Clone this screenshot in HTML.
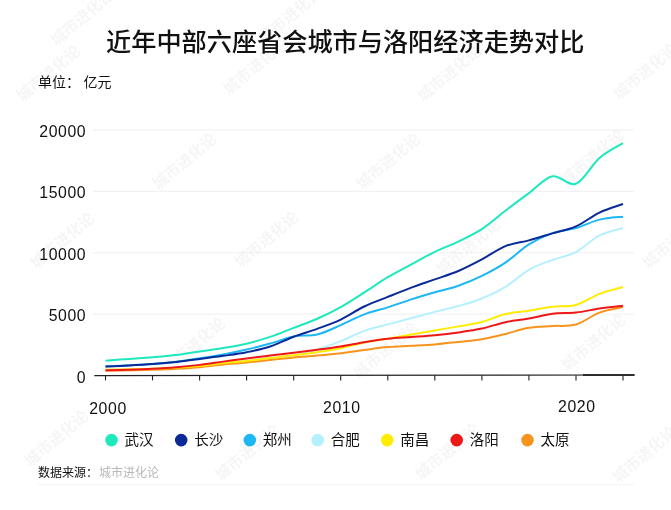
<!DOCTYPE html>
<html lang="zh-CN"><head><meta charset="utf-8"><title>近年中部六座省会城市与洛阳经济走势对比</title>
<style>html,body{margin:0;padding:0;background:#fff}svg{display:block}text{font-family:'Liberation Sans','Noto Sans CJK SC',sans-serif}.wm text{font-weight:700;font-size:15.5px;fill:#f6f6f6;text-anchor:middle}.num{font-size:15.8px;letter-spacing:.6px}</style></head><body>
<svg width="671" height="510" viewBox="0 0 671 510" fill="#111">
<rect width="671" height="510" fill="#fff"/>
<g class="wm">
<text transform="translate(82 17) rotate(-40)" y="6">城市进化论</text>
<text transform="translate(290 15) rotate(-40)" y="6">城市进化论</text>
<text transform="translate(48 73) rotate(-40)" y="6">城市进化论</text>
<text transform="translate(255 66) rotate(-40)" y="6">城市进化论</text>
<text transform="translate(449 73) rotate(-40)" y="6">城市进化论</text>
<text transform="translate(645 71) rotate(-40)" y="6">城市进化论</text>
<text transform="translate(184 161) rotate(-40)" y="6">城市进化论</text>
<text transform="translate(388 161) rotate(-40)" y="6">城市进化论</text>
<text transform="translate(592 157) rotate(-40)" y="6">城市进化论</text>
<text transform="translate(62 240) rotate(-40)" y="6">城市进化论</text>
<text transform="translate(266 239) rotate(-40)" y="6">城市进化论</text>
<text transform="translate(468 246) rotate(-40)" y="6">城市进化论</text>
<text transform="translate(674 240) rotate(-40)" y="6">城市进化论</text>
<text transform="translate(193 345) rotate(-40)" y="6">城市进化论</text>
<text transform="translate(385 350) rotate(-40)" y="6">城市进化论</text>
<text transform="translate(593 342) rotate(-40)" y="6">城市进化论</text>
<text transform="translate(56 438) rotate(-40)" y="6">城市进化论</text>
<text transform="translate(247 452) rotate(-40)" y="6">城市进化论</text>
<text transform="translate(447 451) rotate(-40)" y="6">城市进化论</text>
<text transform="translate(644 454) rotate(-40)" y="6">城市进化论</text>
</g>
<text x="345.2" y="51.1" text-anchor="middle" font-size="25.18" font-weight="500" fill="#111">近年中部六座省会城市与洛阳经济走势对比</text>
<text x="38" y="87" font-size="14">单位：</text><text x="83.5" y="87" font-size="14">亿元</text>
<line x1="93" x2="634" y1="314.1" y2="314.1" stroke="#efefef" stroke-width="1"/>
<line x1="93" x2="634" y1="252.7" y2="252.7" stroke="#efefef" stroke-width="1"/>
<line x1="93" x2="634" y1="191.3" y2="191.3" stroke="#efefef" stroke-width="1"/>
<line x1="93" x2="634" y1="129.9" y2="129.9" stroke="#efefef" stroke-width="1"/>
<text class="num" x="86.2" y="383.0" text-anchor="end">0</text>
<text class="num" x="86.2" y="320.9" text-anchor="end">5000</text>
<text class="num" x="86.2" y="259.5" text-anchor="end">10000</text>
<text class="num" x="86.2" y="198.1" text-anchor="end">15000</text>
<text class="num" x="86.2" y="136.7" text-anchor="end">20000</text>
<path d="M105.50 369.79 C109.42 369.72 121.18 369.54 129.02 369.36 C136.86 369.18 144.70 369.01 152.55 368.72 C160.39 368.43 168.23 368.07 176.07 367.63 C183.91 367.18 191.75 366.80 199.59 366.04 C207.43 365.29 215.27 363.97 223.11 363.12 C230.95 362.27 238.80 361.80 246.64 360.96 C254.48 360.12 262.32 359.00 270.16 358.06 C278.00 357.13 285.84 356.79 293.68 355.36 C301.52 353.93 309.36 351.84 317.20 349.47 C325.05 347.09 332.89 344.22 340.73 341.12 C348.57 338.01 356.41 333.63 364.25 330.84 C372.09 328.05 379.93 326.49 387.77 324.37 C395.61 322.25 403.45 320.20 411.30 318.12 C419.14 316.03 426.98 313.90 434.82 311.88 C442.66 309.86 450.50 308.23 458.34 306.00 C466.18 303.76 474.02 301.63 481.86 298.46 C489.70 295.28 497.55 291.70 505.39 286.92 C513.23 282.15 521.07 274.31 528.91 269.82 C536.75 265.32 544.59 262.90 552.43 259.96 C560.27 257.01 568.11 256.24 575.95 252.14 C583.80 248.03 591.64 239.37 599.48 235.35 C607.32 231.32 619.08 229.21 623.00 227.98" fill="none" stroke="#b5f0ff" stroke-width="2" stroke-linejoin="round"/>
<path d="M105.50 370.64 C109.42 370.59 121.18 370.47 129.02 370.34 C136.86 370.21 144.70 370.12 152.55 369.85 C160.39 369.59 168.23 369.20 176.07 368.75 C183.91 368.30 191.75 367.86 199.59 367.15 C207.43 366.44 215.27 365.27 223.11 364.51 C230.95 363.75 238.80 363.37 246.64 362.61 C254.48 361.84 262.32 360.76 270.16 359.90 C278.00 359.05 285.84 358.19 293.68 357.47 C301.52 356.76 309.36 356.31 317.20 355.61 C325.05 354.91 332.89 354.21 340.73 353.27 C348.57 352.33 356.41 350.98 364.25 349.96 C372.09 348.93 379.93 347.80 387.77 347.12 C395.61 346.44 403.45 346.32 411.30 345.87 C419.14 345.42 426.98 345.08 434.82 344.42 C442.66 343.76 450.50 342.78 458.34 341.91 C466.18 341.04 474.02 340.52 481.86 339.20 C489.70 337.88 497.55 335.87 505.39 333.97 C513.23 332.07 521.07 329.13 528.91 327.80 C536.75 326.48 544.59 326.57 552.43 326.02 C560.27 325.47 568.11 326.74 575.95 324.50 C583.80 322.26 591.64 315.50 599.48 312.60 C607.32 309.70 619.08 308.01 623.00 307.09" fill="none" stroke="#f7941d" stroke-width="2" stroke-linejoin="round"/>
<path d="M105.50 369.79 C109.42 369.72 121.18 369.54 129.02 369.36 C136.86 369.18 144.70 369.01 152.55 368.72 C160.39 368.43 168.23 368.07 176.07 367.63 C183.91 367.18 191.75 366.80 199.59 366.04 C207.43 365.29 215.27 363.97 223.11 363.12 C230.95 362.27 238.80 361.80 246.64 360.96 C254.48 360.12 262.32 359.00 270.16 358.06 C278.00 357.13 285.84 356.34 293.68 355.36 C301.52 354.38 309.36 353.34 317.20 352.17 C325.05 350.99 332.89 349.91 340.73 348.30 C348.57 346.68 356.41 344.09 364.25 342.48 C372.09 340.87 379.93 339.98 387.77 338.66 C395.61 337.34 403.45 335.90 411.30 334.53 C419.14 333.17 426.98 331.82 434.82 330.46 C442.66 329.10 450.50 327.79 458.34 326.38 C466.18 324.97 474.02 324.07 481.86 322.02 C489.70 319.97 497.55 315.95 505.39 314.06 C513.23 312.18 521.07 311.94 528.91 310.72 C536.75 309.51 544.59 307.75 552.43 306.78 C560.27 305.82 568.11 307.10 575.95 304.94 C583.80 302.78 591.64 296.81 599.48 293.83 C607.32 290.84 619.08 288.17 623.00 287.03" fill="none" stroke="#ffec00" stroke-width="2" stroke-linejoin="round"/>
<path d="M105.50 366.44 C109.42 366.25 121.18 365.74 129.02 365.33 C136.86 364.93 144.70 364.62 152.55 364.02 C160.39 363.42 168.23 362.70 176.07 361.75 C183.91 360.79 191.75 359.54 199.59 358.31 C207.43 357.08 215.27 355.85 223.11 354.38 C230.95 352.90 238.80 351.27 246.64 349.47 C254.48 347.67 262.32 345.74 270.16 343.57 C278.00 341.40 285.84 337.96 293.68 336.45 C301.52 334.94 309.36 336.37 317.20 334.48 C325.05 332.60 332.89 328.51 340.73 325.15 C348.57 321.80 356.41 317.31 364.25 314.35 C372.09 311.38 379.93 309.85 387.77 307.35 C395.61 304.84 403.45 301.85 411.30 299.34 C419.14 296.83 426.98 294.55 434.82 292.28 C442.66 290.01 450.50 288.45 458.34 285.71 C466.18 282.97 474.02 279.71 481.86 275.86 C489.70 272.01 497.55 267.83 505.39 262.60 C513.23 257.37 521.07 249.38 528.91 244.47 C536.75 239.57 544.59 235.90 552.43 233.17 C560.27 230.45 568.11 230.36 575.95 228.10 C583.80 225.85 591.64 221.56 599.48 219.65 C607.32 217.75 619.08 217.16 623.00 216.66" fill="none" stroke="#1cb7f4" stroke-width="2" stroke-linejoin="round"/>
<path d="M105.50 366.56 C109.42 366.39 121.18 365.96 129.02 365.55 C136.86 365.14 144.70 364.70 152.55 364.10 C160.39 363.51 168.23 362.84 176.07 361.99 C183.91 361.15 191.75 360.07 199.59 359.04 C207.43 358.02 215.27 357.00 223.11 355.85 C230.95 354.71 238.80 353.73 246.64 352.17 C254.48 350.60 262.32 349.04 270.16 346.46 C278.00 343.88 285.84 339.63 293.68 336.70 C301.52 333.76 309.36 331.67 317.20 328.84 C325.05 326.00 332.89 323.39 340.73 319.66 C348.57 315.94 356.41 310.29 364.25 306.50 C372.09 302.71 379.93 300.05 387.77 296.91 C395.61 293.77 403.45 290.58 411.30 287.66 C419.14 284.74 426.98 282.19 434.82 279.41 C442.66 276.63 450.50 274.33 458.34 271.00 C466.18 267.66 474.02 263.54 481.86 259.39 C489.70 255.25 497.55 249.29 505.39 246.12 C513.23 242.95 521.07 242.51 528.91 240.38 C536.75 238.26 544.59 235.70 552.43 233.37 C560.27 231.04 568.11 229.86 575.95 226.38 C583.80 222.91 591.64 216.26 599.48 212.53 C607.32 208.80 619.08 205.42 623.00 204.00" fill="none" stroke="#0b2a9a" stroke-width="2" stroke-linejoin="round"/>
<path d="M105.50 360.68 C109.42 360.39 121.18 359.53 129.02 358.95 C136.86 358.36 144.70 357.81 152.55 357.17 C160.39 356.52 168.23 356.04 176.07 355.09 C183.91 354.14 191.75 352.66 199.59 351.48 C207.43 350.30 215.27 349.32 223.11 348.02 C230.95 346.72 238.80 345.53 246.64 343.68 C254.48 341.83 262.32 339.55 270.16 336.92 C278.00 334.28 285.84 330.88 293.68 327.85 C301.52 324.83 309.36 322.20 317.20 318.75 C325.05 315.30 332.89 311.53 340.73 307.15 C348.57 302.77 356.41 297.45 364.25 292.46 C372.09 287.47 379.93 281.90 387.77 277.21 C395.61 272.53 403.45 268.58 411.30 264.35 C419.14 260.13 426.98 255.65 434.82 251.85 C442.66 248.06 450.50 245.35 458.34 241.57 C466.18 237.80 474.02 234.33 481.86 229.21 C489.70 224.08 497.55 216.83 505.39 210.83 C513.23 204.82 521.07 198.94 528.91 193.18 C536.75 187.42 544.59 177.86 552.43 176.28 C560.27 174.71 568.11 186.79 575.95 183.74 C583.80 180.68 591.64 164.72 599.48 157.94 C607.32 151.15 619.08 145.52 623.00 143.04" fill="none" stroke="#1ee8bd" stroke-width="2" stroke-linejoin="round"/>
<path d="M105.50 370.32 C109.42 370.22 121.18 369.98 129.02 369.73 C136.86 369.48 144.70 369.22 152.55 368.81 C160.39 368.40 168.23 367.93 176.07 367.27 C183.91 366.62 191.75 365.82 199.59 364.88 C207.43 363.94 215.27 362.70 223.11 361.62 C230.95 360.55 238.80 359.45 246.64 358.43 C254.48 357.41 262.32 356.45 270.16 355.48 C278.00 354.52 285.84 353.61 293.68 352.66 C301.52 351.71 309.36 350.80 317.20 349.77 C325.05 348.75 332.89 347.79 340.73 346.52 C348.57 345.25 356.41 343.45 364.25 342.14 C372.09 340.82 379.93 339.52 387.77 338.65 C395.61 337.78 403.45 337.51 411.30 336.93 C419.14 336.35 426.98 335.91 434.82 335.16 C442.66 334.41 450.50 333.52 458.34 332.42 C466.18 331.33 474.02 330.30 481.86 328.59 C489.70 326.88 497.55 323.85 505.39 322.17 C513.23 320.49 521.07 319.92 528.91 318.51 C536.75 317.09 544.59 314.67 552.43 313.67 C560.27 312.67 568.11 313.37 575.95 312.53 C583.80 311.68 591.64 309.73 599.48 308.61 C607.32 307.49 619.08 306.28 623.00 305.81" fill="none" stroke="#ee1818" stroke-width="2" stroke-linejoin="round"/>
<line x1="94.3" x2="634.5" y1="375.60" y2="375.00" stroke="#222" stroke-width="1.1"/>
<line x1="583" x2="634.5" y1="375.05" y2="375.00" stroke="#111" stroke-width="1.6"/>
<line x1="105.5" x2="105.5" y1="375.2" y2="380.4" stroke="#222" stroke-width="1.1"/>
<line x1="152.5" x2="152.5" y1="375.2" y2="380.4" stroke="#222" stroke-width="1.1"/>
<line x1="199.6" x2="199.6" y1="375.2" y2="380.4" stroke="#222" stroke-width="1.1"/>
<line x1="246.6" x2="246.6" y1="375.2" y2="380.4" stroke="#222" stroke-width="1.1"/>
<line x1="293.7" x2="293.7" y1="375.2" y2="380.4" stroke="#222" stroke-width="1.1"/>
<line x1="340.7" x2="340.7" y1="375.2" y2="380.4" stroke="#222" stroke-width="1.1"/>
<line x1="387.8" x2="387.8" y1="375.2" y2="380.4" stroke="#222" stroke-width="1.1"/>
<line x1="434.8" x2="434.8" y1="375.2" y2="380.4" stroke="#222" stroke-width="1.1"/>
<line x1="481.9" x2="481.9" y1="375.2" y2="380.4" stroke="#222" stroke-width="1.1"/>
<line x1="528.9" x2="528.9" y1="375.2" y2="380.4" stroke="#222" stroke-width="1.1"/>
<line x1="576.0" x2="576.0" y1="375.2" y2="380.4" stroke="#222" stroke-width="1.1"/>
<line x1="623.0" x2="623.0" y1="375.2" y2="380.4" stroke="#222" stroke-width="1.1"/>
<text class="num" x="108.0" y="414.4" text-anchor="middle">2000</text>
<text class="num" x="341.8" y="413.1" text-anchor="middle">2010</text>
<text class="num" x="576.8" y="411.7" text-anchor="middle">2020</text>
<circle cx="111.5" cy="440.1" r="6.3" fill="#1ee8bd"/>
<text x="124.5" y="445.4" font-size="14.5">武汉</text>
<circle cx="181.2" cy="440.1" r="6.3" fill="#0b2a9a"/>
<text x="194.2" y="445.4" font-size="14.5">长沙</text>
<circle cx="249.8" cy="440.1" r="6.3" fill="#1cb7f4"/>
<text x="262.8" y="445.4" font-size="14.5">郑州</text>
<circle cx="317.7" cy="440.1" r="6.3" fill="#b5f0ff"/>
<text x="330.7" y="445.4" font-size="14.5">合肥</text>
<circle cx="387.2" cy="440.1" r="6.3" fill="#ffec00"/>
<text x="400.2" y="445.4" font-size="14.5">南昌</text>
<circle cx="456.7" cy="440.1" r="6.3" fill="#ee1818"/>
<text x="469.7" y="445.4" font-size="14.5">洛阳</text>
<circle cx="527.5" cy="440.1" r="6.3" fill="#f7941d"/>
<text x="540.5" y="445.4" font-size="14.5">太原</text>
<text x="38" y="477.1" font-size="12">数据来源：</text><text x="99" y="477.1" font-size="12" fill="#b8b8b8">城市进化论</text>
<line x1="38" x2="634" y1="484.8" y2="484.8" stroke="#f4f4f4" stroke-width="1"/>
</svg></body></html>
